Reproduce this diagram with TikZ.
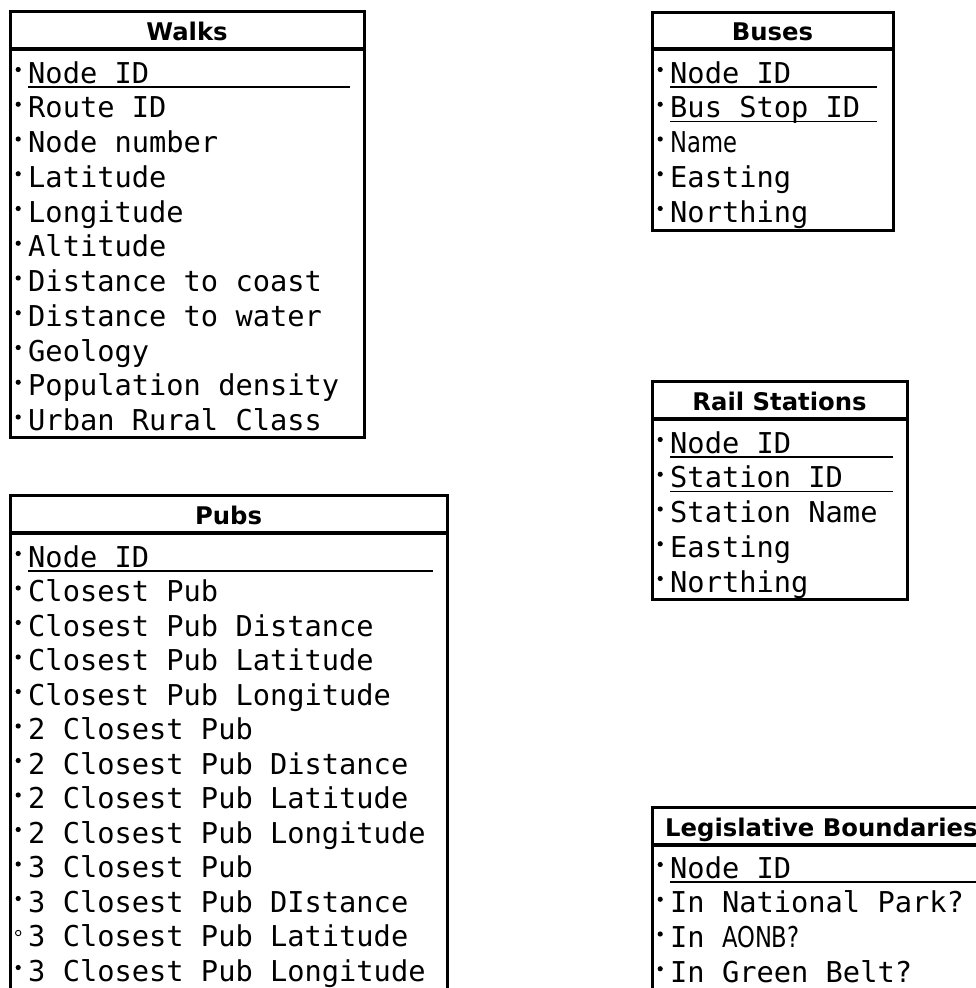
\documentclass[tikz,border=0pt]{standalone}
\usepackage{graphicx}
\usepackage{fontspec}
\setmonofont{DejaVu Sans Mono}
\newfontfamily\hdrfont{DejaVu Sans}[BoldFont={DejaVu Sans Bold}]
\newfontfamily\propfont{DejaVu Sans}
\newcommand\rowfont{\ttfamily\fontsize{28.7}{34}\selectfont}
\newcommand\headfont{\hdrfont\bfseries\fontsize{24.3}{28}\selectfont}
% narrow proportional lettering used in a few attribute names
\newcommand\narrow[1]{\scalebox{0.79}[1]{\propfont\fontsize{28.7}{34}\selectfont #1}}

\tikzset{
  tablebox/.style={draw, line width=3pt},
  headsep/.style={line width=3.8pt},
  keyline/.style={line width=1.3pt},
  rowtxt/.style={anchor=base west, inner sep=0pt, font=\rowfont},
  hdrtxt/.style={anchor=base, inner sep=0pt, font=\headfont},
  bul/.style={fill, circle, inner sep=0pt, minimum size=5.2pt},
  hollowbul/.style={draw, circle, line width=0.9pt, inner sep=0pt, minimum size=5.4pt},
}

% one attribute row: name, x of text, baseline y, text
\newcommand\attr[4]{%
  \node[bul] (#1b) at (#2-9.8,#3-13.5) {};
  \node[rowtxt] (#1) at (#2,#3) {#4};}
\newcommand\attro[4]{%
  \node[hollowbul] (#1b) at (#2-9.8,#3-13.5) {};
  \node[rowtxt] (#1) at (#2,#3) {#4};}

\begin{document}
\begin{tikzpicture}[x=1pt,y=-1pt]
\useasboundingbox (0,0) rectangle (976,988);
\clip (0,0) rectangle (976,988);
\fill[white] (0,0) rectangle (976,988);

% ---------------- Walks ----------------
\draw[tablebox] (10,11.7) rectangle (364,437);
\draw[headsep] (10,49) -- (364,49);
\node[hdrtxt] (walksT) at (187,40) {Walks};
\attr{w1}{28}{83}{Node ID}
\draw[keyline] (28,87) -- (350,87);
\attr{w2}{28}{117.75}{Route ID}
\attr{w3}{28}{152.5}{Node number}
\attr{w4}{28}{187.25}{Latitude}
\attr{w5}{28}{222}{Longitude}
\attr{w6}{28}{256.75}{Altitude}
\attr{w7}{28}{291.5}{Distance to coast}
\attr{w8}{28}{326.25}{Distance to water}
\attr{w9}{28}{361}{Geology}
\attr{w10}{28}{395.75}{Population density}
\attr{w11}{28}{430.5}{Urban Rural Class}

% ---------------- Pubs ----------------
\draw[tablebox] (10,495) rectangle (447,1000);
\draw[headsep] (10,533) -- (447,533);
\node[hdrtxt] (pubsT) at (228.5,524) {Pubs};
\attr{p1}{28}{567}{Node ID}
\draw[keyline] (28,571) -- (433,571);
\attr{p2}{28}{601.5}{Closest Pub}
\attr{p3}{28}{636}{Closest Pub Distance}
\attr{p4}{28}{670.5}{Closest Pub Latitude}
\attr{p5}{28}{705}{Closest Pub Longitude}
\attr{p6}{28}{739.5}{2 Closest Pub}
\attr{p7}{28}{774}{2 Closest Pub Distance}
\attr{p8}{28}{808.5}{2 Closest Pub Latitude}
\attr{p9}{28}{843}{2 Closest Pub Longitude}
\attr{p10}{28}{877.5}{3 Closest Pub}
\attr{p11}{28}{912}{3 Closest Pub DIstance}
\attro{p12}{28}{946.5}{3 Closest Pub Latitude}
\attr{p13}{28}{981}{3 Closest Pub Longitude}

% ---------------- Buses ----------------
\draw[tablebox] (652,12) rectangle (893,230);
\draw[headsep] (652,49) -- (893,49);
\node[hdrtxt] (busT) at (772.5,40) {Buses};
\attr{b1}{670}{83}{Node ID}
\draw[keyline] (670,87) -- (877,87);
\attr{b2}{670}{117.75}{Bus Stop ID}
\draw[keyline] (670,121.75) -- (877,121.75);
\attr{b3}{670}{152.5}{\narrow{Name}}
\attr{b4}{670}{187.25}{Easting}
\attr{b5}{670}{222}{Northing}

% ---------------- Rail Stations ----------------
\draw[tablebox] (652,381) rectangle (907,599);
\draw[headsep] (652,419) -- (907,419);
\node[hdrtxt] (railT) at (779.5,410) {Rail Stations};
\attr{r1}{670}{453}{Node ID}
\draw[keyline] (670,457) -- (893,457);
\attr{r2}{670}{487.75}{Station ID}
\draw[keyline] (670,491.75) -- (893,491.75);
\attr{r3}{670}{522.5}{Station Name}
\attr{r4}{670}{557.25}{Easting}
\attr{r5}{670}{592}{Northing}

% ---------------- Legislative Boundaries ----------------
\draw[tablebox] (652,807) rectangle (995,1000);
\draw[headsep] (652,845) -- (995,845);
\node[hdrtxt, anchor=base west] (legT) at (665,836) {Legislative Boundaries};
\attr{l1}{670}{878}{Node ID}
\draw[keyline] (670,882) -- (981,882);
\attr{l2}{670}{912.75}{In National Park?}
\attr{l3}{670}{947.5}{In \narrow{AONB?}}
\attr{l4}{670}{982.25}{In Green Belt?}
\end{tikzpicture}
\end{document}
